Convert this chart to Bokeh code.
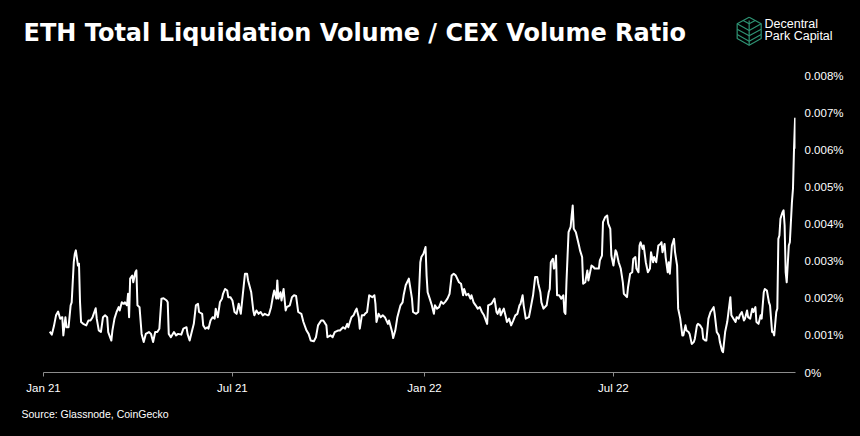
import pandas as pd
from datetime import datetime
from bokeh.plotting import figure
from bokeh.models import Range1d, FixedTicker, ColumnDataSource
from bokeh.core.properties import value
from bokeh.embed import file_html
from bokeh.resources import INLINE

# ---- data ----
# day offsets since 2021-01-01
days = [
    6, 8, 10, 12, 14, 16, 18, 19, 21, 22,
    24, 26, 27, 29, 30, 31, 33, 34, 35, 36,
    38, 41, 43, 45, 47, 50, 51, 53, 55, 57,
    59, 61, 62, 65, 66, 68, 70, 72, 73, 75,
    77, 78, 80, 81, 82, 83, 85, 86, 88, 89,
    90, 92, 94, 96, 98, 101, 103, 105, 107, 109,
    111, 113, 115, 118, 119, 120, 122, 125, 127, 129,
    132, 134, 137, 138, 140, 142, 144, 146, 148, 149,
    152, 153, 155, 157, 158, 160, 162, 164, 165, 167,
    169, 171, 172, 174, 176, 177,
    179, 181, 183, 185, 187, 189, 191, 193, 195, 196,
    199, 201, 202, 204, 206, 208, 210, 212, 215, 216,
    218, 220, 221, 223, 224, 225, 227, 228, 230, 232,
    233, 236, 238, 240, 242, 244, 247, 249, 252, 254,
    256, 259, 261, 263, 266, 268, 271, 272, 275, 277,
    279, 282, 284, 287, 289, 291, 292, 294, 295, 297,
    299, 300, 302, 303, 305, 307, 308, 310, 312, 315,
    317, 318, 319, 321, 323, 325, 327, 330, 331, 334,
    335, 337, 339, 342, 344, 345, 347, 350, 351, 353,
    354, 357, 359,
    361, 362, 364, 366, 367, 368, 370, 372, 374, 375,
    377, 379, 381, 383, 385, 387, 389, 391, 393, 395,
    398, 400, 402, 403, 405, 407, 409, 410, 412, 414,
    416, 418, 420, 422, 425, 426, 429, 430, 432, 434,
    435, 437, 438, 440, 441, 443, 444, 446, 448, 450,
    452, 454, 456, 457, 459, 460, 462, 465, 466, 469,
    471, 473, 474, 476, 477, 479, 482, 484, 485, 486,
    488, 489, 490, 491, 492, 494, 496, 498, 499, 500,
    501, 503, 505, 506, 507, 508, 510, 513, 514, 516,
    517, 519, 521, 522, 524, 525, 527, 528, 532, 533,
    535, 536, 538, 540, 541, 543,
    544, 546, 548, 549, 551, 553, 555, 556, 559, 560,
    562, 564, 565, 567, 568, 570, 571, 572, 574, 575,
    577, 579, 581, 582, 584, 585, 587, 589, 591, 592,
    593, 595, 596, 598, 599, 600, 602, 603, 604, 605,
    607, 608, 610, 612, 613, 615, 616, 618, 619, 621,
    623, 624, 626, 627, 629, 631, 632, 634, 635, 637,
    639, 640, 642, 643, 645, 647, 648, 650, 651, 653,
    655, 656, 658, 659, 661, 663, 664, 666, 667, 669,
    671, 672, 674, 675, 677, 679, 680, 682, 683, 685,
    687, 688, 690, 691, 693, 695, 696, 698, 699, 700,
    702, 703, 704, 705, 706, 708, 709, 710, 711, 712,
    714, 715, 717, 718, 719, 720, 721,
]

# ratio in units of 0.001 %
ratio = [
    1.10, 1.02, 1.25, 1.54, 1.64, 1.45, 1.49, 1.00, 1.49, 1.22,
    1.22, 1.81, 1.89, 2.97, 3.20, 3.29, 2.88, 2.93, 1.89, 1.36,
    1.31, 1.27, 1.40, 1.40, 1.49, 1.73, 1.45, 1.13, 1.09, 1.49,
    1.54, 1.49, 1.09, 0.86, 1.13, 1.45, 1.63, 1.76, 1.67, 1.89,
    1.85, 1.89, 1.81, 2.12, 1.49, 2.53, 2.61, 2.43, 2.70, 2.75,
    1.81, 1.76, 1.04, 0.82, 1.04, 1.09, 1.04, 0.82, 1.09, 1.09,
    1.18, 1.99, 2.00, 1.94, 1.89, 1.04, 0.95, 1.09, 1.00, 1.04,
    1.02, 1.18, 1.22, 1.04, 0.86, 1.09, 1.31, 1.81, 1.85, 1.63,
    1.58, 1.27, 1.18, 1.22, 1.18, 1.40, 1.49, 1.45, 1.72, 1.49,
    1.89, 1.99, 2.12, 2.25, 2.21, 2.03,
    2.03, 1.94, 1.63, 1.58, 1.85, 1.58, 2.12, 2.66, 2.66, 2.48,
    2.16, 1.67, 1.54, 1.67, 1.58, 1.63, 1.54, 1.58, 1.54, 1.56,
    1.76, 2.08, 2.21, 1.99, 2.48, 1.99, 2.16, 1.94, 2.25, 1.67,
    1.76, 1.81, 2.03, 2.08, 2.06, 1.63, 1.58, 1.36, 1.13, 1.04,
    0.86, 0.84, 0.95, 1.27, 1.40, 1.40, 1.27, 0.95, 1.00, 0.95,
    1.09, 1.13, 1.13, 1.22, 1.18, 1.31, 1.22, 1.40, 1.49, 1.54,
    1.67, 1.72, 1.49, 1.18, 1.54, 1.54, 1.58, 1.63, 2.08, 2.03,
    2.08, 1.85, 1.36, 1.58, 1.49, 1.54, 1.49, 1.31, 1.40, 1.09,
    0.93, 1.13, 1.49, 1.81, 1.89, 2.08, 2.35, 2.53, 2.35, 1.99,
    1.63, 1.58, 1.63,
    2.97, 3.11, 3.20, 3.38, 2.61, 2.16, 1.99, 1.81, 1.58, 1.81,
    1.72, 1.76, 1.91, 1.85, 1.91, 1.99, 2.12, 2.61, 2.66, 2.61,
    2.43, 2.39, 2.08, 2.25, 2.08, 2.12, 1.99, 2.08, 1.89, 1.81,
    1.72, 1.76, 1.63, 1.54, 1.31, 1.81, 1.85, 1.89, 1.99, 1.63,
    1.58, 1.72, 1.54, 1.67, 1.72, 1.49, 1.36, 1.45, 1.27, 1.40,
    1.54, 1.58, 1.81, 1.85, 2.08, 1.81, 1.45, 1.49, 1.63, 2.08,
    2.57, 2.57, 2.39, 2.16, 1.89, 1.72, 1.81, 2.16, 2.25, 2.97,
    3.06, 2.80, 2.84, 3.15, 2.08, 2.08, 1.99, 2.08, 1.63, 1.58,
    2.43, 3.78, 3.92, 4.23, 4.50, 3.87, 3.78, 3.42, 3.29, 3.11,
    2.39, 2.43, 2.75, 2.48, 2.75, 2.88, 2.84, 2.80, 2.80, 3.02,
    3.15, 4.05, 4.18, 4.23, 4.01, 3.87,
    3.15, 2.88, 3.29, 3.24, 2.97, 2.80, 2.43, 2.12, 2.03, 2.30,
    2.66, 2.70, 3.06, 3.11, 2.80, 2.70, 3.42, 3.51, 3.33, 3.42,
    2.97, 2.70, 2.80, 3.24, 2.97, 3.11, 2.97, 3.42, 3.46, 3.51,
    3.24, 3.46, 3.11, 2.70, 2.97, 2.66, 3.42, 3.51, 3.60, 3.24,
    2.88, 1.72, 1.45, 1.00, 1.00, 1.27, 1.13, 1.09, 1.04, 0.77,
    0.82, 0.91, 1.27, 1.31, 1.27, 1.18, 0.91, 0.86, 0.86, 1.45,
    1.63, 1.67, 1.76, 1.58, 1.09, 1.00, 0.82, 0.59, 0.55, 1.09,
    1.36, 1.58, 2.03, 1.54, 1.45, 1.36, 1.49, 1.45, 1.54, 1.63,
    1.40, 1.45, 1.67, 1.49, 1.45, 1.72, 1.63, 1.76, 1.36, 1.31,
    1.54, 1.45, 2.16, 2.25, 2.21, 1.89, 1.81, 1.09, 1.09, 1.00,
    1.63, 1.72, 3.60, 3.69, 4.14, 4.32, 4.37, 3.96, 2.70, 2.43,
    3.42, 3.51, 4.59, 4.95, 6.03, 6.84, 6.03,
]
assert len(days) == len(ratio)

x_tick_dates = ["2021-01-01", "2021-07-01", "2022-01-01", "2022-07-01"]
x_tick_labels = ["Jan 21", "Jul 21", "Jan 22", "Jul 22"]
y_ticks = [0, 1, 2, 3, 4, 5, 6, 7, 8]
y_tick_labels = ["0%", "0.001%", "0.002%", "0.003%", "0.004%",
                 "0.005%", "0.006%", "0.007%", "0.008%"]

title_text = "ETH Total Liquidation Volume / CEX Volume Ratio"
source_text = "Source: Glassnode, CoinGecko"
logo_lines = ["Decentral", "Park Capital"]

W = 860
HEADER_H, MAIN_H, FOOTER_H = 60, 340, 36
BG = "black"


def blank_panel(height, y_top):
    """A text-only strip whose frame covers the whole strip (page pixel coords, y down)."""
    f = figure(width=W, height=height, x_range=Range1d(0, W),
               y_range=Range1d(y_top + height, y_top),
               x_axis_location=None, y_axis_location=None,
               output_backend="svg", toolbar_location=None, min_border=0,
               min_border_left=0, min_border_right=0, min_border_top=0, min_border_bottom=0,
               background_fill_color=BG, border_fill_color=BG, outline_line_color=None)
    f.xgrid.visible = False
    f.ygrid.visible = False
    return f


# ---- header: title + logo ----
header = blank_panel(HEADER_H, 0)
header.text(x=[23], y=[32.4], text=[title_text], text_color="white",
            text_font=value("DejaVu Sans"), text_font_style="bold", text_font_size="24px",
            text_baseline="middle", text_align="left")
header.text(x=[764, 764], y=[23.4, 35.0], text=logo_lines, text_color="white",
            text_font=value("Liberation Sans"), text_font_size="12.5px",
            text_baseline="middle", text_align="left")

# logo icon (decoration) in a local 90x102 box
teal = "#2e9273"
icon_paths = [
    [(44, 8), (80, 28), (80, 72), (44, 92), (8, 72), (8, 28), (44, 8)],
    [(44, 18), (44, 92)],
    [(26, 18), (44, 28), (62, 18)],
    [(8, 28), (44, 48), (80, 28)],
    [(8, 44), (44, 64), (80, 44)],
    [(8, 60), (44, 80), (80, 60)],
]
header.multi_line(xs=[[734 + a / 3.0 for a, _ in pth] for pth in icon_paths],
                  ys=[[14 + b / 3.0 for _, b in pth] for pth in icon_paths],
                  line_color=teal, line_width=1.2)

# ---- main chart ----
dates = pd.Timestamp("2021-01-01") + pd.to_timedelta(days, unit="D")
src = ColumnDataSource(dict(date=dates, ratio=ratio))

p = figure(width=W, height=MAIN_H, x_axis_type="datetime", y_axis_location="right",
           x_range=Range1d(datetime(2021, 1, 1), datetime(2022, 12, 22, 10)),
           y_range=Range1d(0, 8),
           output_backend="svg", toolbar_location=None,
           min_border_left=43, min_border_right=65, min_border_top=15, min_border_bottom=28,
           background_fill_color=BG, border_fill_color=BG, outline_line_color=None)
p.xgrid.visible = False
p.ygrid.visible = False

p.line("date", "ratio", source=src, line_color="white", line_width=2, line_join="round")

x_tick_ms = [int(pd.Timestamp(d).value // 10**6) for d in x_tick_dates]
xa = p.xaxis[0]
xa.ticker = FixedTicker(ticks=x_tick_ms)
xa.major_label_overrides = dict(zip(x_tick_ms, x_tick_labels))
xa.axis_line_color = "#8c8c8c"
xa.axis_line_width = 1
xa.major_tick_line_color = "#8c8c8c"
xa.major_tick_out = 4
xa.major_tick_in = 0
xa.minor_tick_line_color = None
xa.major_label_standoff = 5
xa.major_label_text_color = "white"
xa.major_label_text_font = "Liberation Sans"
xa.major_label_text_font_size = "11.5px"

ya = p.yaxis[0]
ya.ticker = FixedTicker(ticks=y_ticks)
ya.major_label_overrides = dict(zip(y_ticks, y_tick_labels))
ya.axis_line_color = None
ya.major_tick_line_color = None
ya.minor_tick_line_color = None
ya.major_tick_out = 0
ya.major_tick_in = 0
ya.major_label_standoff = 9
ya.major_label_text_color = "white"
ya.major_label_text_font = "Liberation Sans"
ya.major_label_text_font_size = "11.5px"

# ---- footer: source ----
footer = blank_panel(FOOTER_H, HEADER_H + MAIN_H)
footer.text(x=[21], y=[413.4], text=[source_text], text_color="white",
            text_font=value("Liberation Sans"), text_font_size="10.5px",
            text_baseline="middle", text_align="left")

# three independent roots stacked on the page (no frame alignment between them)
html = file_html([header, p, footer], INLINE, title="ETH Total Liquidation Volume / CEX Volume Ratio")
html = html.replace("</head>", "<style>html, body { background: #000; }</style></head>", 1)
open("out.html", "w").write(html)
